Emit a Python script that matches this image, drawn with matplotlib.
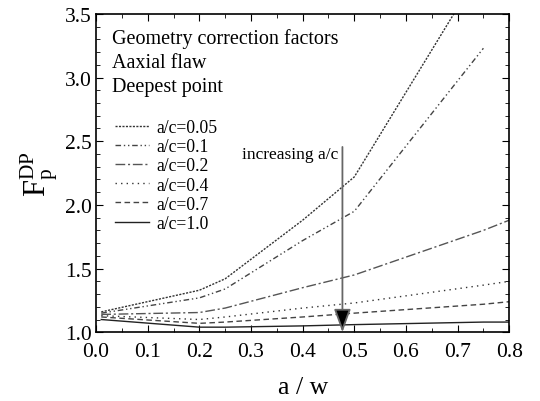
import matplotlib
matplotlib.use("Agg")
import matplotlib.pyplot as plt
from matplotlib.ticker import MultipleLocator

plt.rcParams['font.family'] = ['Liberation Serif', 'DejaVu Serif']
plt.rcParams['mathtext.fontset'] = 'custom'
plt.rcParams['mathtext.rm'] = 'Liberation Serif'
plt.rcParams['mathtext.it'] = 'Liberation Serif'

x = [0.01, 0.2, 0.25, 0.4, 0.5, 0.75, 0.8]
labels = ["a/c=0.05", "a/c=0.1", "a/c=0.2", "a/c=0.4", "a/c=0.7", "a/c=1.0"]
y005 = [1.16, 1.33, 1.42, 1.88, 2.22, 3.88, 4.2]
y01 = [1.15, 1.27, 1.34, 1.72, 1.95, 3.23, None]
y02 = [1.14, 1.155, 1.19, 1.35, 1.45, 1.80, 1.88]
y04 = [1.13, 1.10, 1.12, 1.19, 1.23, 1.37, 1.40]
y07 = [1.12, 1.07, 1.08, 1.12, 1.15, 1.22, 1.24]
y10 = [1.10, 1.04, 1.04, 1.05, 1.06, 1.08, 1.08]
series = [y005, y01, y02, y04, y07, y10]
styles = [(0, (1.5, 1.0)), (0, (4, 2, 1, 2, 1, 2)), (0, (7, 2, 1.5, 2)),
          (0, (1, 3)), (0, (4, 2.5)), '-']
colors = ['#333333', '#444444', '#555555', '#333333', '#444444', '#222222']

fig = plt.figure(figsize=(5.4, 4.02), dpi=100)
ax = fig.add_axes([0.178, 0.171, 0.765, 0.792])

for ys, lab, ls, c in zip(series, labels, styles, colors):
    xs = [xx for xx, yy in zip(x, ys) if yy is not None]
    yv = [yy for yy in ys if yy is not None]
    ax.plot(xs, yv, linestyle=ls, color=c, lw=1.0, label=lab)

ax.set_xlim(0, 0.8)
ax.set_ylim(1.0, 3.5)
ax.xaxis.set_major_locator(MultipleLocator(0.1))
ax.xaxis.set_minor_locator(MultipleLocator(0.05))
ax.yaxis.set_major_locator(MultipleLocator(0.5))
ax.yaxis.set_minor_locator(MultipleLocator(0.1))
ax.tick_params(which='both', direction='in', top=True, right=True, labelsize=15.5)
ax.tick_params(axis='x', pad=7)
ax.tick_params(axis='y', pad=3)
ax.tick_params(which='major', length=5)
ax.tick_params(which='minor', length=3)
ax.set_xticklabels([f"{v:.1f}" for v in ax.get_xticks()])
ax.set_yticklabels([f"{v:.1f}" for v in ax.get_yticks()])
for s in ax.spines.values():
    s.set_linewidth(1.2)

ax.set_xlabel("a / w", fontsize=18.5, labelpad=11)
ax.set_ylabel(r"$\mathrm{F}_{\mathrm{p}}^{\mathrm{DP}}$", fontsize=22, labelpad=4)

ax.text(0.039, 0.955, "Geometry correction factors\nAaxial flaw\nDeepest point",
        transform=ax.transAxes, fontsize=14.5, va='top', linespacing=1.36)

ax.legend(loc='upper left', bbox_to_anchor=(0.017, 0.708), frameon=False, fontsize=12.7,
          handlelength=1.9, handletextpad=0.4, labelspacing=0.12, borderaxespad=0.3)

ax.annotate("", xy=(0.477, 1.0), xytext=(0.477, 2.455),
            arrowprops=dict(arrowstyle='-|>,head_length=0.55,head_width=0.2',
                            edgecolor='#666666', facecolor='black',
                            lw=1.3, mutation_scale=26, shrinkA=0, shrinkB=0))
ax.text(0.468, 2.40, "increasing a/c", ha='right', va='center', fontsize=12.5)

fig.savefig("out.png", dpi=100)
